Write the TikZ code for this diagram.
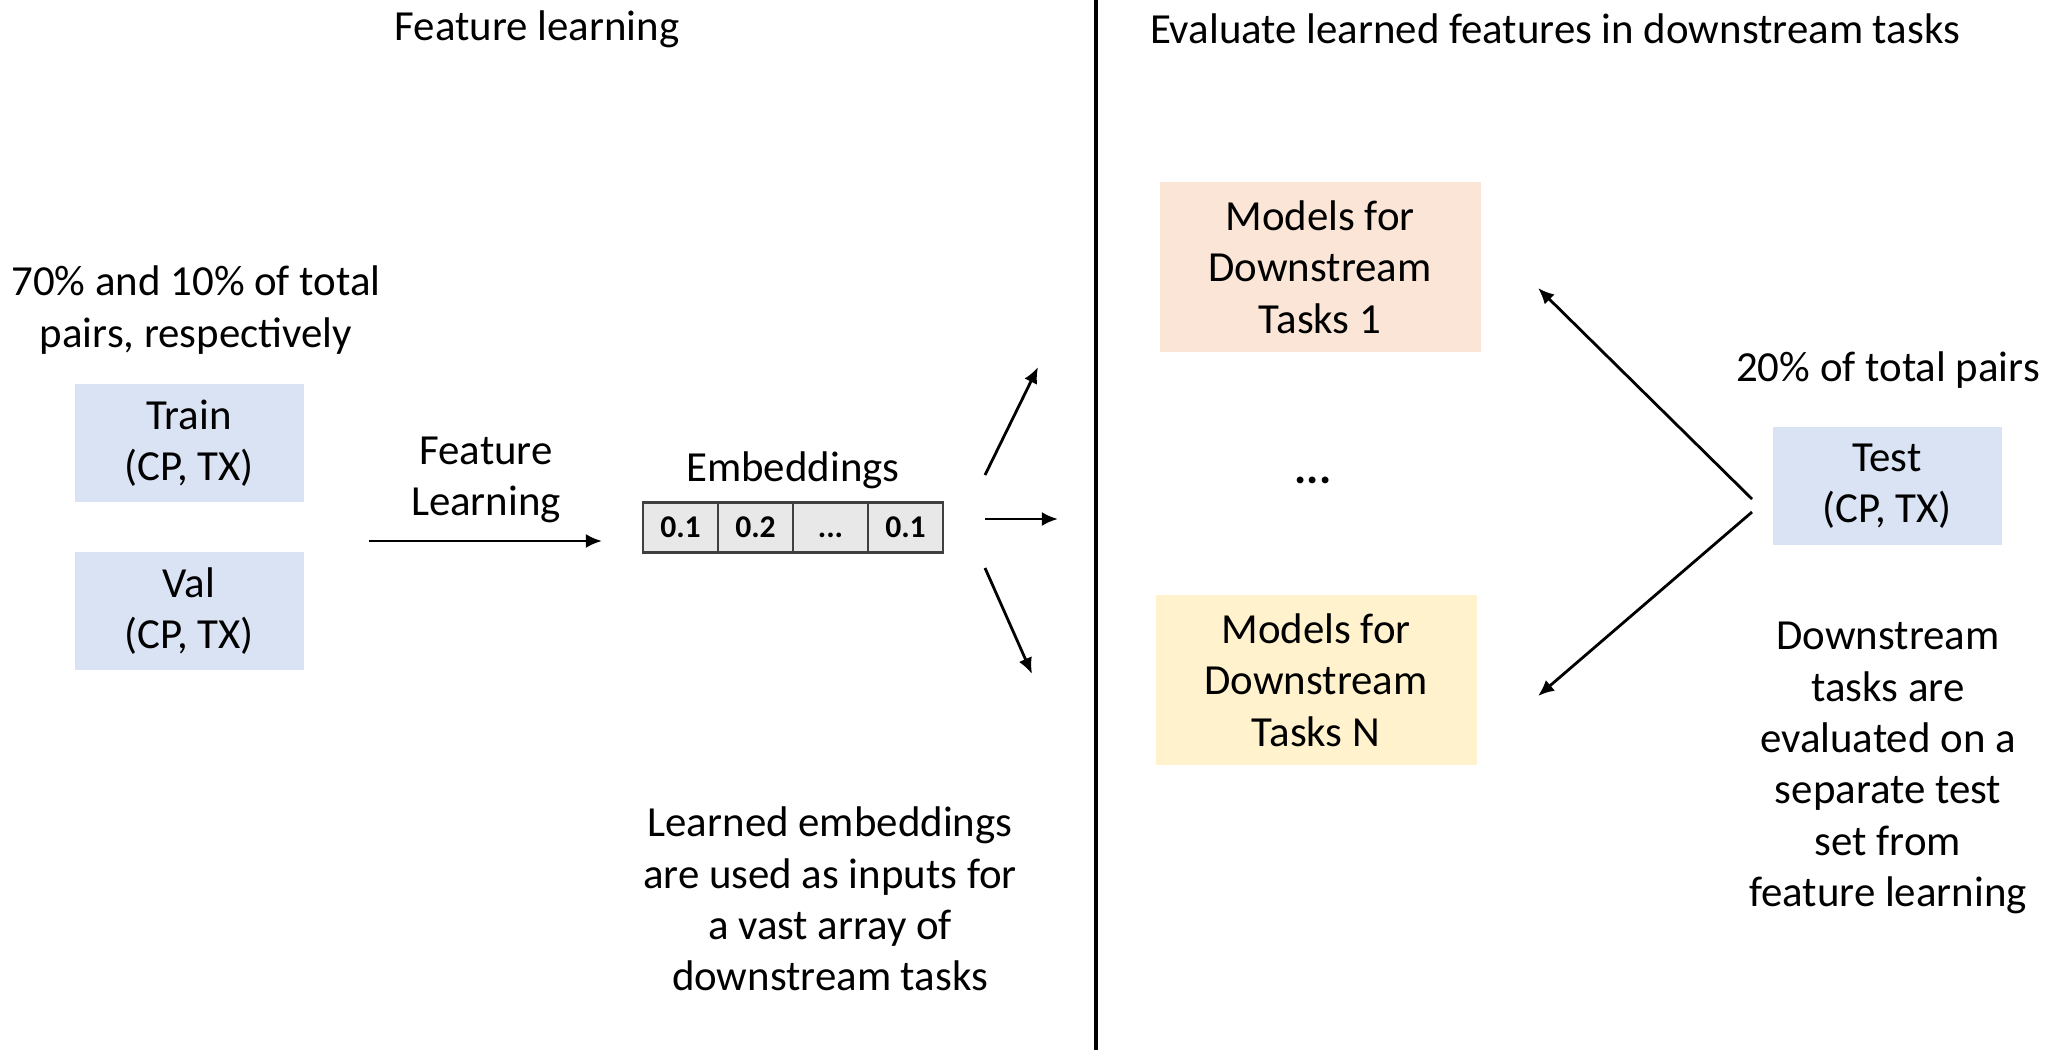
\documentclass[tikz,border=0pt]{standalone}
\usepackage{fontspec}
\setmainfont{Carlito}
\usetikzlibrary{arrows.meta,positioning}
\definecolor{splitblue}{HTML}{DAE3F3}
\definecolor{taskpeach}{HTML}{FBE5D6}
\definecolor{taskyellow}{HTML}{FFF2CC}

\begin{document}
\begin{tikzpicture}[
    lbl/.style ={align=center, font=\fontsize{12.2}{14.6}\selectfont},
    split/.style ={lbl, fill=splitblue, minimum width=2.29cm, minimum height=1.18cm},
    model/.style ={lbl, minimum width=3.21cm, minimum height=1.70cm},
    cell/.style ={draw=black!75, fill=black!9, line width=0.8pt, inner sep=0pt, outer sep=0pt,
                  text height=5.8pt, text depth=0pt,
                  minimum width=0.75cm, minimum height=0.5cm, font=\fontsize{9}{10}\selectfont\bfseries},
    arr/.style ={-{Latex[length=4.6pt,width=4pt]}, line width=0.8pt}]
   \useasboundingbox (0,0) rectangle (20.53,-10.5);

   % the two halves
   \draw[line width=1.2pt] (10.96,0) -- (10.96,-10.5);
   \node[lbl] (titleL) at (5.37,-0.29)  {Feature learning};
   \node[lbl] (titleR) at (15.55,-0.29) {Evaluate learned features in downstream tasks};

   % splits used for feature learning
   \node[lbl] (share) at (1.96,-3.10) {70\% and 10\% of total\\pairs, respectively};
   \node[split] (train) at (1.89,-4.43) {Train\\(CP, TX)};
   \node[split] (val)   at (1.89,-6.11) {Val\\(CP, TX)};

   \coordinate (fl-in)  at (3.69,-5.41);
   \coordinate (fl-out) at (6.02,-5.41);
   \draw[arr] (fl-in) to (fl-out);
   \node[lbl] (fl) at (4.86,-4.80) {Feature\\Learning};

   % embedding vector
   \node[cell] (e1) at (6.805,-5.277) {0.1};
   \node[cell, right=0pt of e1] (e2) {0.2};
   \node[cell, right=0pt of e2] (e3) {...};
   \node[cell, right=0pt of e3] (e4) {0.1};
   \node[lbl] (emb) at (7.93,-4.70) {Embeddings};

   \coordinate (up-a)  at (9.85,-4.75);
   \coordinate (up-b)  at (10.38,-3.67);
   \coordinate (mid-a) at (9.85,-5.19);
   \coordinate (mid-b) at (10.58,-5.19);
   \coordinate (dn-a)  at (9.85,-5.68);
   \coordinate (dn-b)  at (10.32,-6.74);
   \draw[arr] (up-a) to (up-b);
   \draw[arr] (mid-a) to (mid-b);
   \draw[arr] (dn-a) to (dn-b);

   \node[lbl] (usage) at (8.30,-8.99)
     {Learned embeddings\\are used as inputs for\\a vast array of\\downstream tasks};

   % downstream models
   \node[model, fill=taskpeach]  (task1) at (13.20,-2.67) {Models for\\Downstream\\Tasks 1};
   \node[lbl, font=\fontsize{13}{15}\selectfont\bfseries] (dots) at (13.13,-4.80) {...};
   \node[model, fill=taskyellow] (taskN) at (13.16,-6.80) {Models for\\Downstream\\Tasks N};

   % held-out split
   \node[lbl] (tshare) at (18.88,-3.70) {20\% of total pairs};
   \node[split] (test) at (18.87,-4.86) {Test\\(CP, TX)};

   \coordinate (t-up)  at (17.52,-4.99);
   \coordinate (t-dn)  at (17.52,-5.12);
   \coordinate (to-1)  at (15.38,-2.88);
   \coordinate (to-N)  at (15.38,-6.96);
   \draw[arr] (t-up) to (to-1);
   \draw[arr] (t-dn) to (to-N);

   \node[lbl] (eval) at (18.88,-7.68)
     {Downstream\\tasks are\\evaluated on a\\separate test\\set from\\feature learning};
\end{tikzpicture}
\end{document}
